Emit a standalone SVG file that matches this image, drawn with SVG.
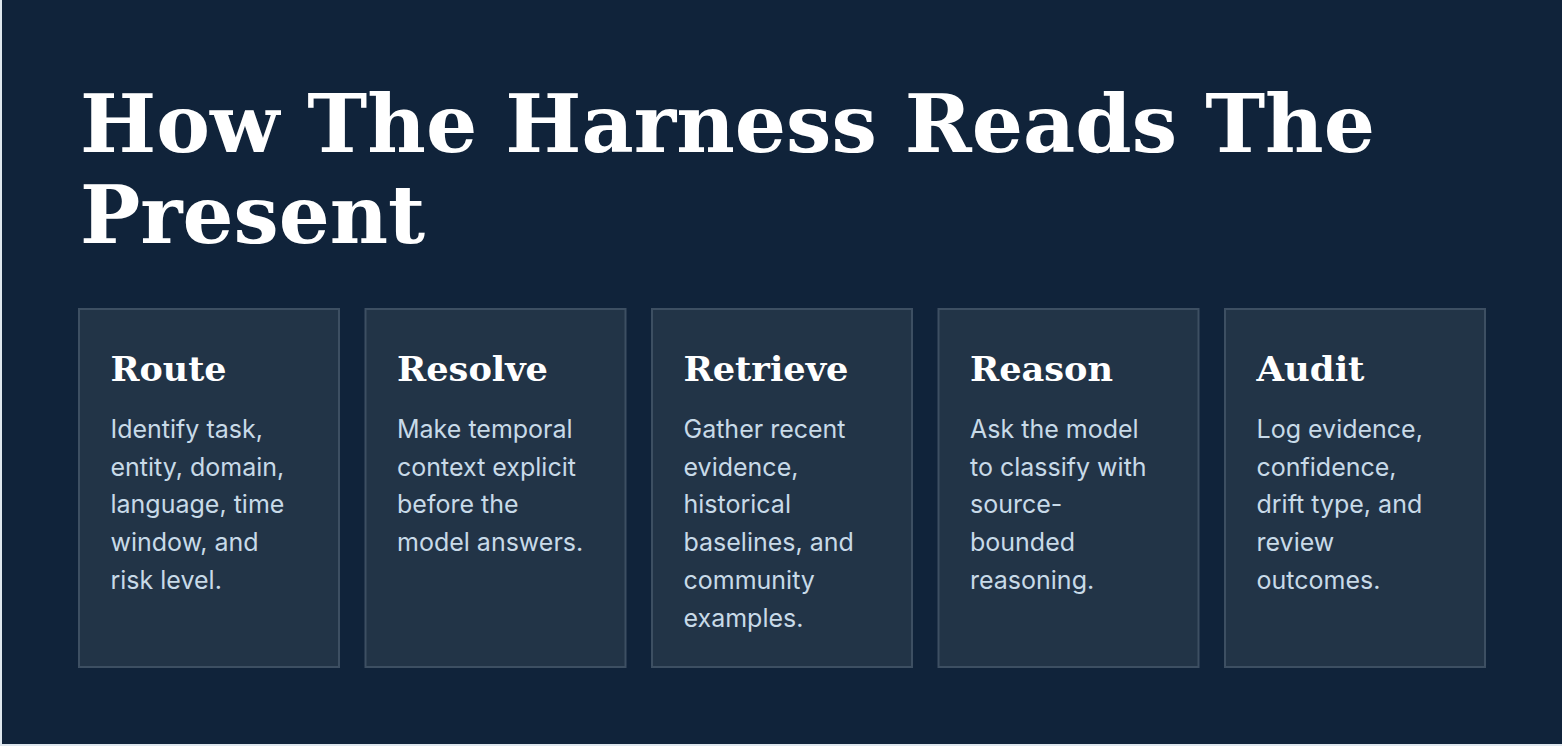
<svg xmlns="http://www.w3.org/2000/svg" width="1562" height="746" viewBox="0 0 1562 746">
<style>
.title{font-family:Georgia,"DejaVu Serif","Liberation Serif",serif;font-weight:700;font-size:81px;fill:#ffffff}
.card{fill:#223447;stroke:#3d4f62;stroke-width:2}
.head{font-family:Georgia,"DejaVu Serif","Liberation Serif",serif;font-weight:700;font-size:34px;fill:#ffffff}
.body{font-family:Inter,"Noto Sans","Liberation Sans",sans-serif;font-size:25px;fill:#c8dae8}
</style>
<rect x="0" y="0" width="1562" height="746" fill="#dfe7ee"/>
<rect x="2" y="0" width="1560" height="744" fill="#10233a"/>
<g id="title">
<text class="title" x="80" y="152" textLength="1295" lengthAdjust="spacingAndGlyphs">How The Harness Reads The</text>
<text class="title" x="80" y="243" textLength="345" lengthAdjust="spacingAndGlyphs">Present</text>
</g>
<g id="route">
<rect class="card" x="79" y="309" width="260" height="358"/>
<text class="head" x="110.5" y="381" textLength="116" lengthAdjust="spacingAndGlyphs">Route</text>
<text class="body"><tspan x="110.5" y="438">Identify task,</tspan><tspan x="110.5" y="475.7">entity, domain,</tspan><tspan x="110.5" y="513.4">language, time</tspan><tspan x="110.5" y="551.1">window, and</tspan><tspan x="110.5" y="588.8">risk level.</tspan></text>
</g>
<g id="resolve">
<rect class="card" x="365.5" y="309" width="260" height="358"/>
<text class="head" x="397" y="381" textLength="151" lengthAdjust="spacingAndGlyphs">Resolve</text>
<text class="body"><tspan x="397" y="438">Make temporal</tspan><tspan x="397" y="475.7">context explicit</tspan><tspan x="397" y="513.4">before the</tspan><tspan x="397" y="551.1">model answers.</tspan></text>
</g>
<g id="retrieve">
<rect class="card" x="652" y="309" width="260" height="358"/>
<text class="head" x="683.5" y="381" textLength="165" lengthAdjust="spacingAndGlyphs">Retrieve</text>
<text class="body"><tspan x="683.5" y="438">Gather recent</tspan><tspan x="683.5" y="475.7">evidence,</tspan><tspan x="683.5" y="513.4">historical</tspan><tspan x="683.5" y="551.1">baselines, and</tspan><tspan x="683.5" y="588.8">community</tspan><tspan x="683.5" y="626.5">examples.</tspan></text>
</g>
<g id="reason">
<rect class="card" x="938.5" y="309" width="260" height="358"/>
<text class="head" x="970" y="381" textLength="143" lengthAdjust="spacingAndGlyphs">Reason</text>
<text class="body"><tspan x="970" y="438">Ask the model</tspan><tspan x="970" y="475.7">to classify with</tspan><tspan x="970" y="513.4">source-</tspan><tspan x="970" y="551.1">bounded</tspan><tspan x="970" y="588.8">reasoning.</tspan></text>
</g>
<g id="audit">
<rect class="card" x="1225" y="309" width="260" height="358"/>
<text class="head" x="1256.5" y="381" textLength="108" lengthAdjust="spacingAndGlyphs">Audit</text>
<text class="body"><tspan x="1256.5" y="438">Log evidence,</tspan><tspan x="1256.5" y="475.7">confidence,</tspan><tspan x="1256.5" y="513.4">drift type, and</tspan><tspan x="1256.5" y="551.1">review</tspan><tspan x="1256.5" y="588.8">outcomes.</tspan></text>
</g>
<g id="connectors"></g>
</svg>
